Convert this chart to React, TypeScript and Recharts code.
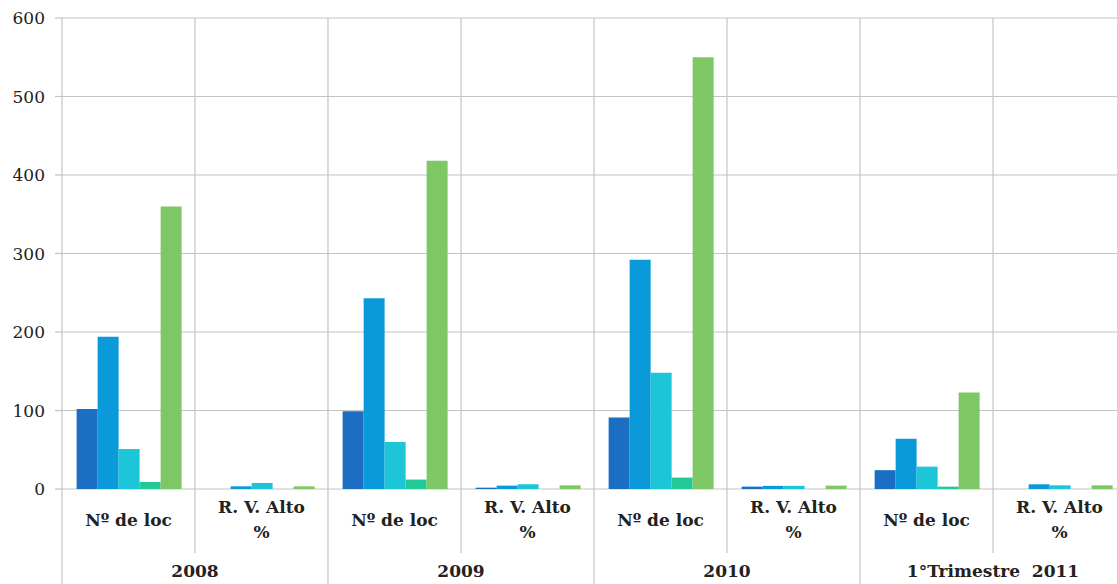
import React from 'react';
import { BarChart, Bar, XAxis, YAxis, CartesianGrid } from 'recharts';

const groups = ['2008', '2009', '2010', '1°Trimestre  2011'];
const measures = [['Nº de loc'], ['R. V. Alto', '%']];
const yTicks = [0, 100, 200, 300, 400, 500, 600];

const serie1 = [102, 0, 99, 1.7, 91, 3, 24, 0];
const serie2 = [194, 3.4, 243, 4.3, 292, 4, 64, 6];
const serie3 = [51, 7.7, 60, 6, 148, 4, 28.5, 4.7];
const serie4 = [9, 0, 12, 0, 14.5, 0, 3, 0];
const serie5 = [360, 3.4, 418, 4.7, 550, 4.3, 123, 4.7];

const colors = ['#1b6ec2', '#0a9ad9', '#1cc6d8', '#22c996', '#7dc864'];
const keys = ['s1', 's2', 's3', 's4', 's5'];

const data = groups.flatMap((g, gi) =>
  measures.map((m, mi) => {
    const i = gi * 2 + mi;
    return {
      name: `${g}-${mi}`,
      s1: serie1[i],
      s2: serie2[i],
      s3: serie3[i],
      s4: serie4[i],
      s5: serie5[i],
    };
  })
);

const CHART_W = 1130;
const CHART_H = 584;
const TOP = 18;
const LEFT = 62;
const RIGHT = 4;
const X_AXIS_H = 95;
const PLOT_W = CHART_W - LEFT - RIGHT;
const BAND = PLOT_W / data.length;
const BASE_Y = CHART_H - X_AXIS_H;
const GRID = '#c4c4c4';
const FONT = '"DejaVu Serif", "Liberation Serif", serif';

const CategoryTick = (props: any) => {
  const { x, payload } = props;
  const index = payload.index ?? props.index;
  const mi = index % 2;
  const gi = Math.floor(index / 2);
  const left = x - BAND / 2;
  const lines = measures[mi];
  return (
    <g>
      <line x1={left} x2={left} y1={TOP} y2={mi === 0 ? CHART_H : BASE_Y + 64} stroke={GRID} strokeWidth={1.2} />
      {lines.length === 1 ? (
        <text x={x} y={BASE_Y + 32} textAnchor="middle" dominantBaseline="middle" fontSize={17} fontWeight="bold" fill="#222">
          {lines[0]}
        </text>
      ) : (
        <text textAnchor="middle" fontSize={17} fontWeight="bold" fill="#222">
          <tspan x={x} y={BASE_Y + 19} dominantBaseline="middle">{lines[0]}</tspan>
          <tspan x={x} y={BASE_Y + 44} dominantBaseline="middle">{lines[1]}</tspan>
        </text>
      )}
      {mi === 0 && (
        <text x={x + BAND / 2} y={BASE_Y + 83} textAnchor="middle" dominantBaseline="middle" fontSize={17} fontWeight="bold" fill="#222" style={{ whiteSpace: 'pre' }}>
          {groups[gi]}
        </text>
      )}
    </g>
  );
};

export default function App() {
  return (
    <div style={{ position: 'fixed', left: 0, top: 0, width: 1117, height: 584, overflow: 'hidden', background: '#fff' }}>
      <BarChart
        width={CHART_W}
        height={CHART_H}
        data={data}
        margin={{ top: TOP, right: RIGHT, left: 0, bottom: 0 }}
        barCategoryGap="11%"
        barGap={0}
        style={{ fontFamily: FONT }}
      >
        <CartesianGrid vertical={false} stroke={GRID} strokeWidth={1.2} />
        <XAxis
          dataKey="name"
          interval={0}
          height={X_AXIS_H}
          axisLine={false}
          tickLine={false}
          tick={<CategoryTick />}
        />
        <YAxis
          width={LEFT}
          domain={[0, 600]}
          ticks={yTicks}
          axisLine={false}
          tickLine={{ stroke: GRID, strokeWidth: 1.2 }}
          tickSize={7}
          tickMargin={10}
          tick={{ fill: '#222', fontSize: 17 }}
        />
        {keys.map((k, i) => (
          <Bar key={k} dataKey={k} name={`Serie ${i + 1}`} fill={colors[i]} isAnimationActive={false} />
        ))}
      </BarChart>
    </div>
  );
}
